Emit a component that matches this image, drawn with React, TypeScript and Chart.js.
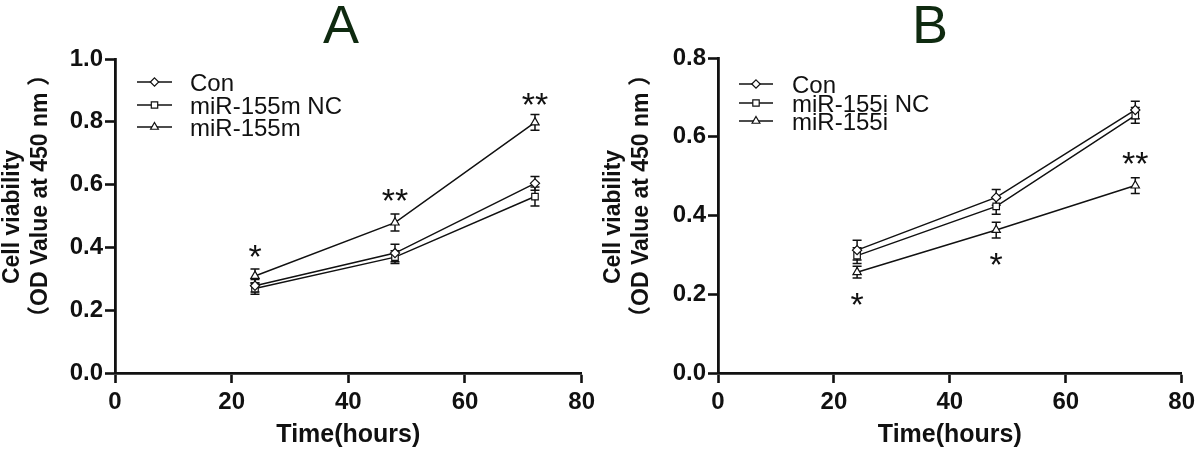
import React, { useEffect, useRef } from "react";
import { Chart, registerables } from "chart.js";

Chart.register(...registerables);

// ---------- data ----------
const hours = [24, 48, 72];

// Panel A
const seriesNamesA = ["Con", "miR-155m NC", "miR-155m"];
const conA = [0.278, 0.382, 0.604];
const ncA = [0.269, 0.369, 0.562];
const mimicA = [0.309, 0.479, 0.798];
const conErrA = [0.02, 0.028, 0.022];
const ncErrA = [0.018, 0.02, 0.03];
const mimicErrA = [0.022, 0.027, 0.025];
const starXA = [24, 48, 72];
const starYA = [0.395, 0.574, 0.88];
const starTextA = ["*", "**", "**"];

// Panel B
const seriesNamesB = ["Con", "miR-155i NC", "miR-155i"];
const conB = [0.312, 0.446, 0.668];
const ncB = [0.298, 0.423, 0.654];
const inhB = [0.256, 0.363, 0.476];
const conErrB = [0.025, 0.02, 0.022];
const ncErrB = [0.02, 0.02, 0.02];
const inhErrB = [0.015, 0.02, 0.02];
const starXB = [24, 48, 72];
const starYB = [0.192, 0.294, 0.55];
const starTextB = ["*", "*", "**"];

const xMin = 0;
const xMax = 80;
const xStep = 20;
const yMaxA = 1.0;
const yMaxB = 0.8;
const yStep = 0.2;

const xTitle = "Time(hours)";
const yTitle1 = "Cell viability";
const yTitle2 = "（OD Value at 450 nm ）";

const pointStyles = ["rectRot", "rect", "triangle"];

const FONT = '"Liberation Sans", Arial, "Noto Sans CJK SC", sans-serif';
const INK = "#111111";

type Panel = {
  letter: string;
  names: string[];
  values: number[][];
  errors: number[][];
  starX: number[];
  starY: number[];
  starText: string[];
  yMax: number;
  left: number;
  right: number;
  top: number;
  bottom: number;
  letterX: number;
  yTitleX1: number;
  yTitleX2: number;
  legendX1: number;
  legendX2: number;
  legendTextX: number;
  legendRows: number[];
};

const panels: Panel[] = [
  {
    letter: "A",
    names: seriesNamesA,
    values: [conA, ncA, mimicA],
    errors: [conErrA, ncErrA, mimicErrA],
    starX: starXA,
    starY: starYA,
    starText: starTextA,
    yMax: yMaxA,
    left: 115,
    right: 585,
    top: 59,
    bottom: 373,
    letterX: 341,
    yTitleX1: 13,
    yTitleX2: 41,
    legendX1: 137,
    legendX2: 172,
    legendTextX: 190,
    legendRows: [82, 105, 127],
  },
  {
    letter: "B",
    names: seriesNamesB,
    values: [conB, ncB, inhB],
    errors: [conErrB, ncErrB, inhErrB],
    starX: starXB,
    starY: starYB,
    starText: starTextB,
    yMax: yMaxB,
    left: 118,
    right: 587,
    top: 58,
    bottom: 373,
    letterX: 330,
    yTitleX1: 14,
    yTitleX2: 42,
    legendX1: 139,
    legendX2: 173,
    legendTextX: 192,
    legendRows: [84, 103, 121],
  },
];

const W = 600;
const H = 449;

function drawMarker(ctx: CanvasRenderingContext2D, style: string, x: number, y: number) {
  ctx.save();
  ctx.beginPath();
  if (style === "rectRot") {
    const r = 4.2;
    ctx.moveTo(x, y - r);
    ctx.lineTo(x + r, y);
    ctx.lineTo(x, y + r);
    ctx.lineTo(x - r, y);
    ctx.closePath();
  } else if (style === "rect") {
    const s = 3.2;
    ctx.rect(x - s, y - s, 2 * s, 2 * s);
  } else {
    const r = 4.5;
    ctx.moveTo(x, y - r);
    ctx.lineTo(x + r * 0.866, y + r * 0.5);
    ctx.lineTo(x - r * 0.866, y + r * 0.5);
    ctx.closePath();
  }
  ctx.fillStyle = "#ffffff";
  ctx.fill();
  ctx.lineWidth = 1.2;
  ctx.strokeStyle = INK;
  ctx.stroke();
  ctx.restore();
}

function makePlugin(p: Panel) {
  return {
    id: "decor" + p.letter,
    beforeDatasetsDraw(chart: any) {
      const ctx: CanvasRenderingContext2D = chart.ctx;
      const ys = chart.scales.y;
      ctx.save();
      ctx.strokeStyle = INK;
      ctx.lineWidth = 1.5;
      p.values.forEach((vals, i) => {
        const meta = chart.getDatasetMeta(i);
        vals.forEach((v, j) => {
          const el = meta.data[j];
          const x = el.x;
          const e = p.errors[i][j];
          const yTop = ys.getPixelForValue(v + e);
          const yBot = ys.getPixelForValue(v - e);
          ctx.beginPath();
          ctx.moveTo(x, yTop);
          ctx.lineTo(x, yBot);
          ctx.moveTo(x - 4.5, yTop);
          ctx.lineTo(x + 4.5, yTop);
          ctx.moveTo(x - 4.5, yBot);
          ctx.lineTo(x + 4.5, yBot);
          ctx.stroke();
        });
      });
      ctx.restore();
    },
    afterDraw(chart: any) {
      const ctx: CanvasRenderingContext2D = chart.ctx;
      const xs = chart.scales.x;
      const ys = chart.scales.y;
      const area = chart.chartArea;
      ctx.save();

      // Panel letter
      ctx.fillStyle = "#0f2a10";
      ctx.font = `54px ${FONT}`;
      ctx.textAlign = "center";
      ctx.textBaseline = "alphabetic";
      ctx.fillText(p.letter, p.letterX, 43);

      // X axis title
      ctx.fillStyle = INK;
      ctx.font = `bold 25px ${FONT}`;
      ctx.textAlign = "center";
      ctx.fillText(xTitle, (area.left + area.right) / 2, 442);

      // Y axis title (two lines, rotated)
      ctx.font = `bold 23px ${FONT}`;
      ctx.save();
      ctx.translate(p.yTitleX1, 217);
      ctx.rotate(-Math.PI / 2);
      ctx.textBaseline = "middle";
      ctx.fillText(yTitle1, 0, 0);
      ctx.restore();
      ctx.save();
      ctx.translate(p.yTitleX2, 196);
      ctx.rotate(-Math.PI / 2);
      ctx.textBaseline = "middle";
      ctx.fillText(yTitle2, 0, 0);
      ctx.restore();

      // Legend
      ctx.font = `24px ${FONT}`;
      ctx.textAlign = "left";
      ctx.textBaseline = "alphabetic";
      p.names.forEach((name, i) => {
        const y = p.legendRows[i];
        ctx.beginPath();
        ctx.strokeStyle = INK;
        ctx.lineWidth = 1.5;
        ctx.moveTo(p.legendX1, y);
        ctx.lineTo(p.legendX2, y);
        ctx.stroke();
        drawMarker(ctx, pointStyles[i], (p.legendX1 + p.legendX2) / 2, y);
        ctx.fillStyle = INK;
        ctx.fillText(name, p.legendTextX, y + 8.6);
      });

      // Significance stars
      ctx.font = `34px ${FONT}`;
      ctx.textAlign = "center";
      ctx.fillStyle = INK;
      p.starX.forEach((sx, i) => {
        const px = xs.getPixelForValue(sx);
        const py = ys.getPixelForValue(p.starY[i]);
        ctx.fillText(p.starText[i], px, py + 19);
      });

      ctx.restore();
    },
  };
}

function PanelChart({ p, offsetX }: { p: Panel; offsetX: number }) {
  const ref = useRef<HTMLCanvasElement | null>(null);
  useEffect(() => {
    if (!ref.current) return;
    const datasets = p.values.map((vals, i) => ({
      label: p.names[i],
      data: vals.map((v, j) => ({ x: hours[j], y: v })),
      borderColor: INK,
      borderWidth: 1.5,
      backgroundColor: "#ffffff",
      pointStyle: pointStyles[i],
      pointRadius: i === 1 ? 4.6 : i === 2 ? 4.8 : 4.6,
      pointBorderWidth: 1.2,
      pointBorderColor: INK,
      pointBackgroundColor: "#ffffff",
      tension: 0,
      fill: false,
    }));
    const tickFont = { family: FONT, size: 24, weight: "bold" as const };
    const chart = new Chart(ref.current, {
      type: "line",
      data: { datasets },
      plugins: [makePlugin(p)],
      options: {
        animation: false,
        responsive: false,
        devicePixelRatio: 1,
        events: [],
        layout: { padding: { left: 0, top: p.top, right: W - p.right, bottom: 0 } },
        plugins: {
          legend: { display: false },
          tooltip: { enabled: false },
          title: { display: false },
        },
        scales: {
          x: {
            type: "linear",
            min: xMin,
            max: xMax,
            afterFit: (s: any) => {
              s.height = H - p.bottom;
            },
            ticks: {
              stepSize: xStep,
              color: INK,
              font: tickFont,
              padding: 5,
              maxRotation: 0,
              callback: (v: any) => String(v),
            },
            grid: {
              display: true,
              drawOnChartArea: false,
              drawTicks: true,
              tickLength: 10,
              tickWidth: 2.6,
              tickColor: INK,
            },
            border: { display: true, color: INK, width: 2.8 },
          },
          y: {
            type: "linear",
            min: 0,
            max: p.yMax,
            afterFit: (s: any) => {
              s.width = p.left;
            },
            ticks: {
              stepSize: yStep,
              color: INK,
              font: tickFont,
              padding: 2,
              callback: (v: any) => Number(v).toFixed(1),
            },
            grid: {
              display: true,
              drawOnChartArea: false,
              drawTicks: true,
              tickLength: 10,
              tickWidth: 2.6,
              tickColor: INK,
            },
            border: { display: true, color: INK, width: 2.8 },
          },
        },
      } as any,
    });
    return () => chart.destroy();
  }, [p]);
  return (
    <div style={{ position: "absolute", left: offsetX, top: 0, width: W, height: H }}>
      <canvas ref={ref} width={W} height={H} style={{ width: W, height: H, display: "block" }} />
    </div>
  );
}

export default function App() {
  return (
    <div
      style={{
        position: "absolute",
        left: 0,
        top: 0,
        width: 1200,
        height: 449,
        background: "#ffffff",
        overflow: "hidden",
      }}
    >
      <PanelChart p={panels[0]} offsetX={0} />
      <PanelChart p={panels[1]} offsetX={600} />
    </div>
  );
}
